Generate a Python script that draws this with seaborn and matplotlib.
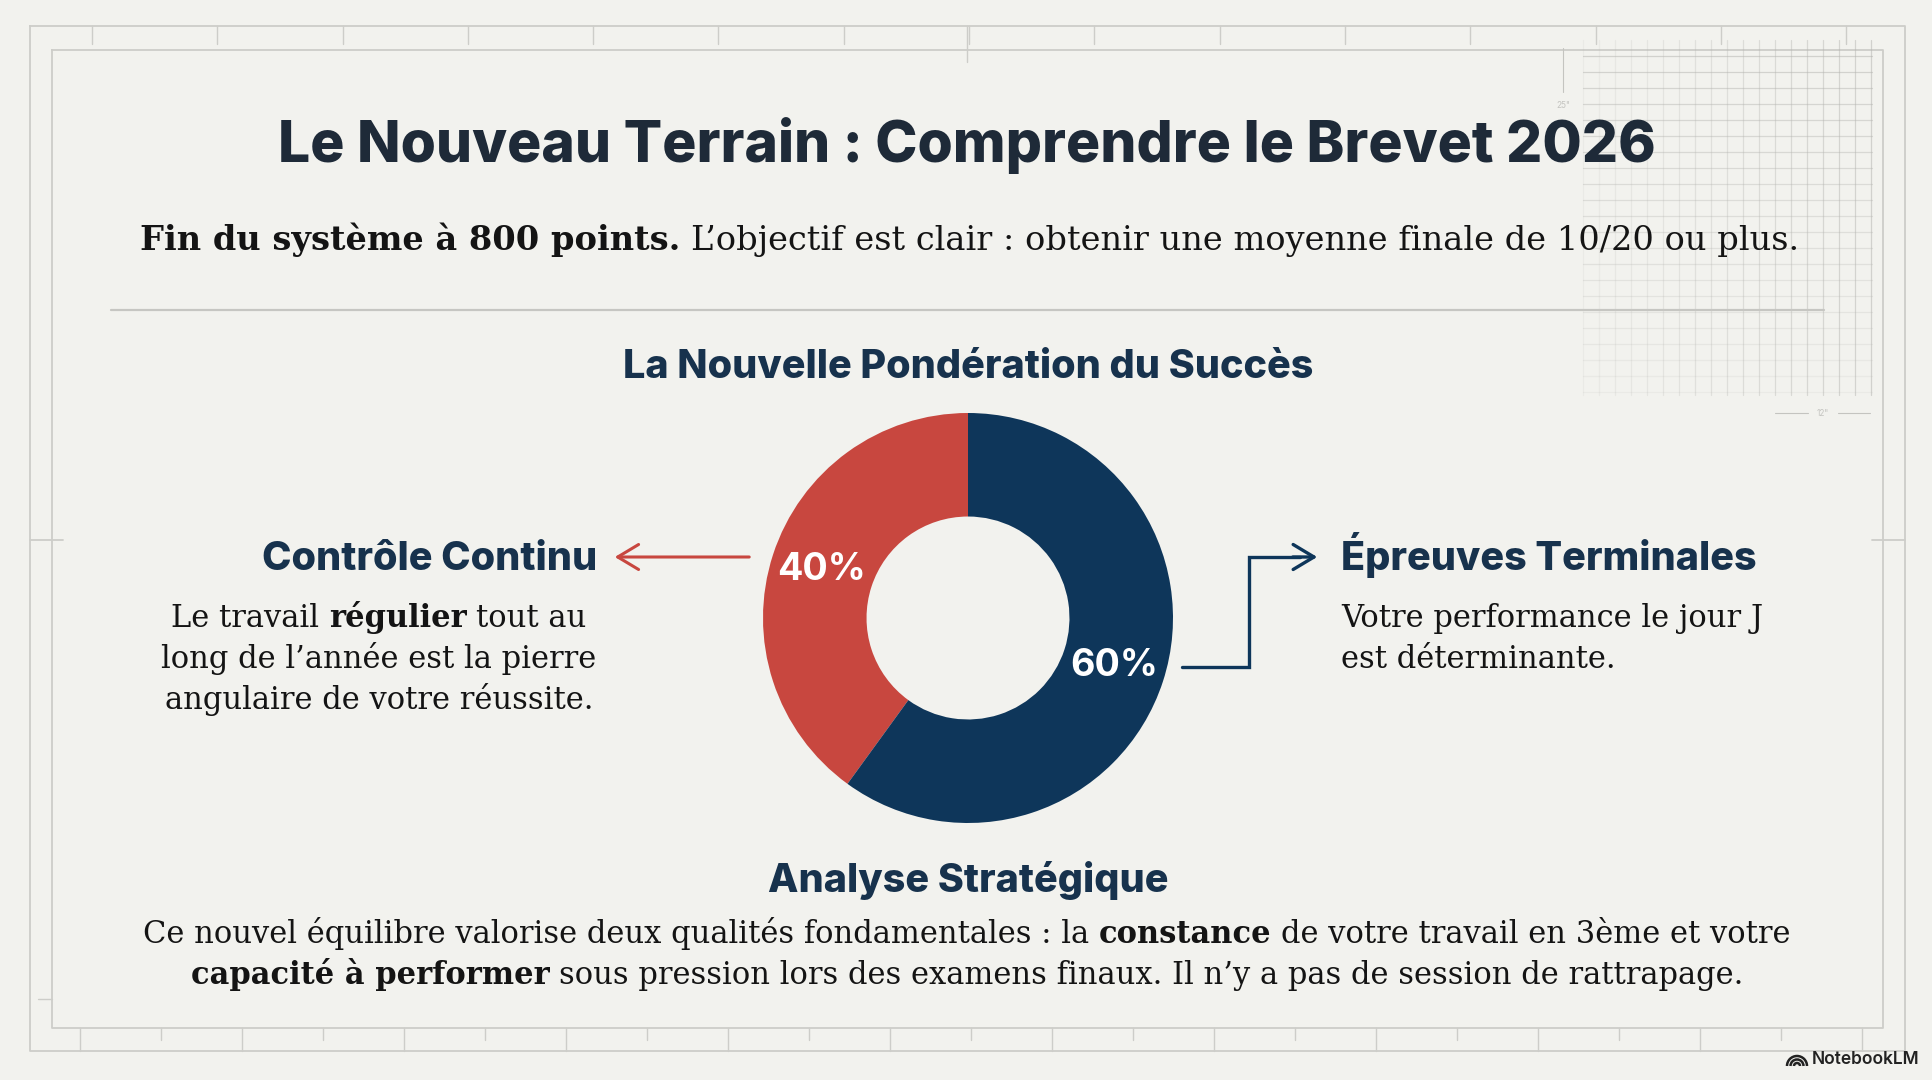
import numpy as np
import matplotlib
matplotlib.use("Agg")
import matplotlib.pyplot as plt
from matplotlib.patches import Arc
import seaborn as sns

# donnees du graphique
parts = ["Contrôle Continu", "Épreuves Terminales"]
weights = [40, 60]
part_colors = ["#C8473F", "#0E365A"]

title = "Le Nouveau Terrain : Comprendre le Brevet 2026"
subtitle = [("Fin du système à 800 points.", "bold"),
            ("L’objectif est clair : obtenir une moyenne finale de 10/20 ou plus.", "normal")]
chart_title = "La Nouvelle Pondération du Succès"
left_lines = [[("Le travail", "normal"), ("régulier", "bold"), ("tout au", "normal")],
              [("long de l’année est la pierre", "normal")],
              [("angulaire de votre réussite.", "normal")]]
right_lines = ["Votre performance le jour J", "est déterminante."]
analysis_title = "Analyse Stratégique"
analysis_lines = [[("Ce nouvel équilibre valorise deux qualités fondamentales : la", "normal"),
                   ("constance", "bold"), ("de votre travail en 3ème et votre", "normal")],
                  [("capacité à performer", "bold"),
                   ("sous pression lors des examens finaux. Il n’y a pas de session de rattrapage.", "normal")]]

BG = "#F2F2EE"
NAVY = "#17324D"
INK = "#141414"
SANS = "Inter"
SERIF = "DejaVu Serif"
HEAD = 28.5
BODY = 22

sns.set_theme(style="white", rc={"figure.facecolor": BG, "axes.facecolor": BG})
plt.rcParams["font.family"] = [SANS, "DejaVu Sans"]

W, H = 1933, 1080
fig = plt.figure(figsize=(W / 100, H / 100), dpi=100)
ax = fig.add_axes([0, 0, 1, 1])
ax.set_xlim(0, W)
ax.set_ylim(H, 0)
ax.axis("off")
renderer = fig.canvas.get_renderer()


def draw_runs(x, y, runs, size, ha="center", family=SERIF, color=INK):
    # place des morceaux normal/gras sur une meme ligne
    texts = []
    for s, w in runs:
        texts.append(ax.text(0, y, s, fontsize=size, fontweight=w, family=family,
                             color=color, va="baseline", ha="left"))
    widths = [t.get_window_extent(renderer).width for t in texts]
    a = ax.text(0, 0, "x x", fontsize=size, family=family)
    b = ax.text(0, 0, "xx", fontsize=size, family=family)
    space = a.get_window_extent(renderer).width - b.get_window_extent(renderer).width
    a.remove()
    b.remove()
    total = sum(widths) + space * (len(runs) - 1)
    pos = x - total / 2 if ha == "center" else (x - total if ha == "right" else x)
    for t, wd in zip(texts, widths):
        t.set_x(pos)
        pos += wd + space


# cadre facon plan
frame = "#CDCDC9"
ax.plot([30, 1905, 1905, 30, 30], [26, 26, 1051, 1051, 26], color=frame, lw=1.3)
ax.plot([52, 1883, 1883, 52, 52], [50, 50, 1028, 1028, 50], color=frame, lw=1.3)
for xt in np.arange(92, 1880, 125.3):
    ax.plot([xt, xt], [26, 44], color=frame, lw=1)
ax.plot([967, 967], [26, 62], color=frame, lw=1)
for i, xt in enumerate(np.arange(80, 1880, 81)):
    ax.plot([xt, xt], [1028, 1051 if i % 2 == 0 else 1040], color=frame, lw=1)
ax.plot([30, 63], [540, 540], color=frame, lw=1.3)
ax.plot([1872, 1905], [540, 540], color=frame, lw=1.3)
ax.plot([38, 52], [999, 999], color=frame, lw=1)

# grille en haut a droite
for xg in np.arange(1583, 1876, 16):
    ax.plot([xg, xg], [40, 395], color="#B4B4B0", lw=0.9,
            alpha=0.12 + 0.4 * (xg - 1583) / 290)
for yg in np.arange(56, 396, 16):
    ax.plot([1583, 1872], [yg, yg], color="#B4B4B0", lw=0.9,
            alpha=0.12 + 0.4 * (1 - (yg - 56) / 340))
ax.plot([1563, 1563], [48, 92], color="#C4C4C0", lw=0.8)
ax.text(1563, 106, "25\"", fontsize=6, color="#C4C4C0", ha="center", va="center")
ax.plot([1775, 1808], [413, 413], color="#C4C4C0", lw=0.8)
ax.plot([1838, 1870], [413, 413], color="#C4C4C0", lw=0.8)
ax.text(1823, 413, "12\"", fontsize=6, color="#C4C4C0", ha="center", va="center")

# titres
ax.text(967, 162, title, fontsize=41, fontweight=800, color="#1E2A38",
        ha="center", va="baseline")
draw_runs(970, 250, subtitle, 24.2)
ax.plot([111, 1824], [310, 310], color="#C6C6C2", lw=1.6)
ax.text(968, 378, chart_title, fontsize=HEAD, fontweight=800, color=NAVY,
        ha="center", va="baseline")

# donut
cx, cy, r = 968, 618, 205
ax_pie = fig.add_axes([(cx - r) / W, (H - cy - r) / H, 2 * r / W, 2 * r / H])
ax_pie.pie(weights, colors=sns.color_palette(part_colors), startangle=90,
           counterclock=True, radius=1, pctdistance=0.75,
           autopct=lambda p: f"{p:.0f}%",
           wedgeprops=dict(width=0.505, edgecolor="none"),
           textprops=dict(color="white", fontsize=27, fontweight="bold", family=SANS))
ax_pie.set_xlim(-1, 1)
ax_pie.set_ylim(-1, 1)
ax_pie.axis("off")

# cote gauche
ax.text(597, 570, parts[0], fontsize=HEAD, fontweight=800, color=NAVY,
        ha="right", va="baseline")
ax.annotate("", xy=(612, 557), xytext=(752, 557),
            arrowprops=dict(arrowstyle="->, head_length=0.5, head_width=0.3",
                            color=part_colors[0], lw=2.2, mutation_scale=30))
for k, line in enumerate(left_lines):
    draw_runs(379, 627 + 41 * k, line, BODY)

# cote droit
ax.plot([1182, 1249, 1249, 1300], [667, 667, 557, 557], color=part_colors[1],
        lw=2.4, solid_joinstyle="miter")
ax.annotate("", xy=(1320, 557), xytext=(1290, 557),
            arrowprops=dict(arrowstyle="->, head_length=0.5, head_width=0.3",
                            color=part_colors[1], lw=2.4, mutation_scale=30))
ax.text(1341, 570, parts[1], fontsize=HEAD, fontweight=800, color=NAVY,
        ha="left", va="baseline")
for k, line in enumerate(right_lines):
    ax.text(1341, 627 + 41 * k, line, fontsize=BODY, family=SERIF, color=INK,
            ha="left", va="baseline")

# analyse
ax.text(968, 892, analysis_title, fontsize=HEAD, fontweight=800, color=NAVY,
        ha="center", va="baseline")
draw_runs(967, 943, analysis_lines[0], BODY)
draw_runs(967, 984, analysis_lines[1], BODY)

# logo (axe y inverse : arcs vers le haut = 180..360)
for rr in [3, 6.5, 10]:
    ax.add_patch(Arc((1797, 1066), 2 * rr, 2 * rr, theta1=180, theta2=360,
                     color="#222222", lw=1.8))
ax.text(1812, 1060, "NotebookLM", fontsize=12.5, fontweight="semibold",
        color="#222222", ha="left", va="center")

fig.savefig("out.png", dpi=100, facecolor=BG)
